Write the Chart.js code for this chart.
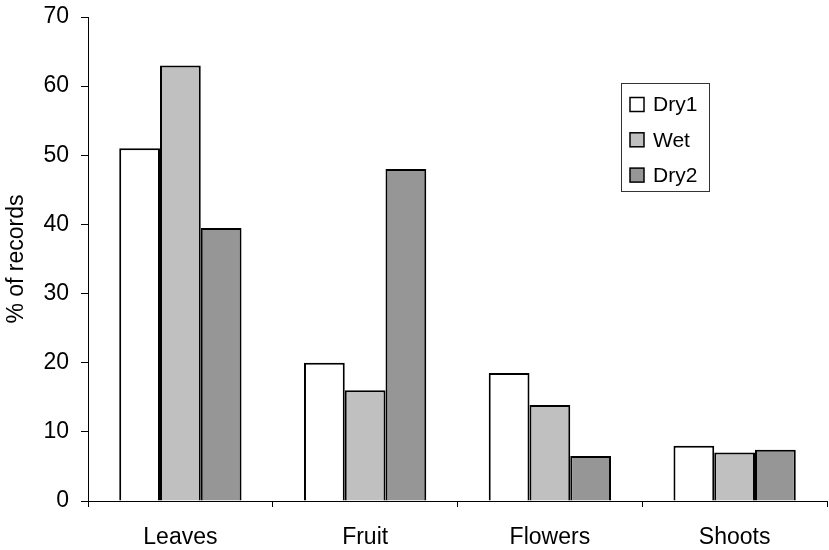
<!DOCTYPE html>
<html>
<head>
<meta charset="utf-8">
<script src="https://cdn.jsdelivr.net/npm/chart.js@4/dist/chart.umd.min.js"></script>
<style>
  html, body { margin: 0; padding: 0; background: #fff; }
  #wrap { width: 829px; height: 550px; }
</style>
</head>
<body>
<div id="wrap"><canvas id="chart" width="829" height="550"></canvas></div>
<script>
// categories and series
const categories = ['Leaves', 'Fruit', 'Flowers', 'Shoots'];
const dry1 = [51, 20, 18.5, 8];
const wet = [63, 16, 13.9, 7];
const dry2 = [39.5, 48, 6.5, 7.4];
const yTicks = [0, 10, 20, 30, 40, 50, 60, 70];

const FONT = '"Liberation Sans", Arial, sans-serif';

// legend drawn as a boxed list like the Excel original
const boxLegend = {
    id: 'boxLegend',
    afterDraw(chart) {
        const ctx = chart.ctx;
        const x = 621, y = 83, w = 88, h = 108;
        ctx.save();
        ctx.fillStyle = '#fff';
        ctx.fillRect(x, y, w, h);
        ctx.strokeStyle = '#333';
        ctx.lineWidth = 1;
        ctx.strokeRect(x + 0.5, y + 0.5, w, h);
        ctx.font = '21px ' + FONT;
        ctx.textBaseline = 'middle';
        chart.data.datasets.forEach((ds, i) => {
            const cy = 104.5 + i * 35.3;
            ctx.fillStyle = ds.backgroundColor;
            ctx.fillRect(630, cy - 7, 14, 14);
            ctx.strokeStyle = '#000';
            ctx.lineWidth = 1.5;
            ctx.strokeRect(630, cy - 7, 14, 14);
            ctx.fillStyle = '#000';
            ctx.fillText(ds.label, 653, cy + 1);
        });
        ctx.restore();
    }
};

new Chart(document.getElementById('chart'), {
    type: 'bar',
    data: {
        labels: categories,
        datasets: [
            { label: 'Dry1', data: dry1, backgroundColor: '#ffffff' },
            { label: 'Wet', data: wet, backgroundColor: '#c0c0c0' },
            { label: 'Dry2', data: dry2, backgroundColor: '#969696' }
        ]
    },
    options: {
        responsive: false,
        animation: false,
        layout: { padding: { top: 17, right: 2, left: 0, bottom: 0 } },
        datasets: {
            bar: {
                borderColor: '#000',
                borderWidth: 2,
                categoryPercentage: 0.662,
                barPercentage: 1
            }
        },
        plugins: {
            legend: { display: false },
            tooltip: { enabled: false }
        },
        scales: {
            x: {
                grid: {
                    offset: true,
                    drawOnChartArea: false,
                    tickLength: 6,
                    color: '#000'
                },
                border: { color: '#000', width: 1 },
                ticks: {
                    color: '#000',
                    font: { family: FONT, size: 23 },
                    padding: 17
                },
                afterFit(scale) { scale.height = 49; }
            },
            y: {
                min: 0,
                max: 70,
                afterBuildTicks(scale) {
                    scale.ticks = yTicks.map(v => ({ value: v }));
                },
                grid: {
                    drawOnChartArea: false,
                    tickLength: 7,
                    color: '#000'
                },
                border: { color: '#000', width: 1 },
                ticks: {
                    color: '#000',
                    font: { family: FONT, size: 23 },
                    padding: 12
                },
                title: {
                    display: true,
                    text: '% of records',
                    color: '#000',
                    font: { family: FONT, size: 23 },
                    padding: { top: 3, bottom: 0 }
                },
                afterFit(scale) {
                    scale.width = 88;
                    scale.paddingTop = 0;
                    scale.paddingBottom = 0;
                }
            }
        }
    },
    plugins: [boxLegend]
});
</script>
</body>
</html>
